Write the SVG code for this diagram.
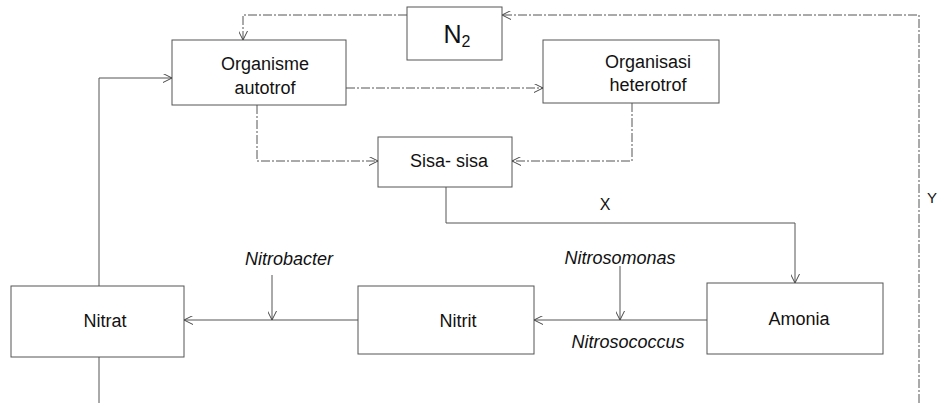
<svg xmlns="http://www.w3.org/2000/svg" width="939" height="403" viewBox="0 0 939 403">
<defs>
<marker id="arr" viewBox="0 0 10 10" refX="10" refY="5" markerWidth="9" markerHeight="9" markerUnits="userSpaceOnUse" orient="auto">
<path d="M0,0 L10,5 L0,10" fill="none" stroke="#444" stroke-width="1.1"/>
</marker>
<style>
.box{fill:#fff;stroke:#555;stroke-width:1}
.t{font-family:"Liberation Sans",Arial,sans-serif;font-size:18px;fill:#111;text-anchor:middle}
.i{font-style:italic}
.c{fill:none;stroke:#555;stroke-width:1}
.d{stroke-dasharray:9,2,2,2}
</style>
</defs>
<rect width="939" height="403" fill="#fff"/>
<g id="connectors">
<path class="c d" d="M407,15 H243 V40" marker-end="url(#arr)"/>
<path class="c d" d="M919,403 V15 H502" marker-end="url(#arr)"/>
<path class="c" d="M99,286 V78 H172" marker-end="url(#arr)"/>
<path class="c d" d="M346,88 H543" marker-end="url(#arr)"/>
<path class="c d" d="M257,105 V161 H378" marker-end="url(#arr)"/>
<path class="c d" d="M632,103 V161 H512" marker-end="url(#arr)"/>
<path class="c" d="M446,187 V223 H795 V283" marker-end="url(#arr)"/>
<path class="c" d="M358,320 H184" marker-end="url(#arr)"/>
<path class="c" d="M272,275 V320" marker-end="url(#arr)"/>
<path class="c" d="M707,320 H534" marker-end="url(#arr)"/>
<path class="c" d="M620,266 V320" marker-end="url(#arr)"/>
<path class="c" d="M99,357 V403"/>
<text class="t" x="605" y="210" style="font-size:16px">X</text>
<text class="t" x="927" y="203" style="font-size:15px;text-anchor:start">Y</text>
<text class="t i" x="289" y="265">Nitrobacter</text>
<text class="t i" x="620" y="264">Nitrosomonas</text>
<text class="t i" x="628" y="348">Nitrosococcus</text>
</g>
<g id="n2">
<rect class="box" x="407" y="7" width="95" height="53"/>
<text class="t" x="457" y="43" style="font-size:25px">N<tspan style="font-size:16px" dy="4">2</tspan></text>
</g>
<g id="autotrof">
<rect class="box" x="172" y="40" width="174" height="65"/>
<text class="t" x="265" y="70">Organisme</text>
<text class="t" x="265" y="94">autotrof</text>
</g>
<g id="heterotrof">
<rect class="box" x="543" y="40" width="176" height="63"/>
<text class="t" x="648" y="68">Organisasi</text>
<text class="t" x="648" y="91">heterotrof</text>
</g>
<g id="sisa">
<rect class="box" x="378" y="137" width="134" height="50"/>
<text class="t" x="449" y="167">Sisa- sisa</text>
</g>
<g id="nitrat">
<rect class="box" x="11" y="286" width="173" height="71"/>
<text class="t" x="105" y="327">Nitrat</text>
</g>
<g id="nitrit">
<rect class="box" x="358" y="286" width="176" height="68"/>
<text class="t" x="458" y="327">Nitrit</text>
</g>
<g id="amonia">
<rect class="box" x="707" y="283" width="176" height="71"/>
<text class="t" x="799" y="325">Amonia</text>
</g>
</svg>
